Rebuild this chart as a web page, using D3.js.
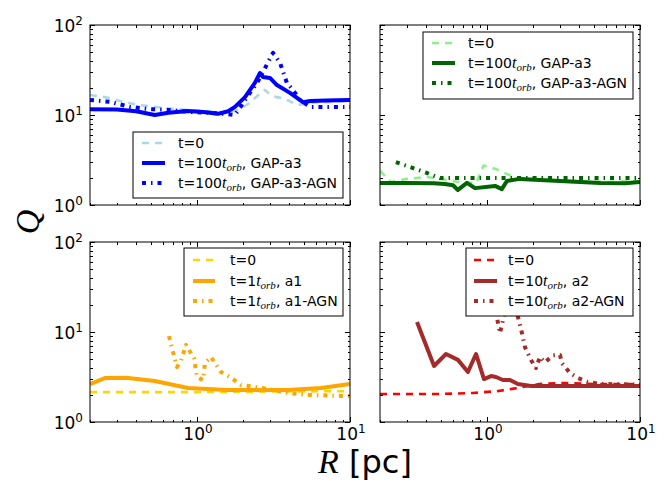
<!DOCTYPE html>
<html><head><meta charset="utf-8">
<script src="https://cdn.jsdelivr.net/npm/d3@7"></script>
<style>body{margin:0;background:#fff}svg{display:block}</style>
</head><body><svg id="c" width="670" height="503"></svg>
<script>
// ---------- DATA ----------
const xTicksMajor = [1, 10];
const yTicksMajor = [1, 10, 100];
const xTickLabels = ["0", "1"];
const yTickLabels = ["0", "1", "2"];

// top-left (GAP-a3, blue)
const tlT0R  = [0.2, 0.25, 0.314, 0.42, 0.53, 0.66, 0.87, 1.2, 1.6, 1.9, 2.2, 2.5, 2.78, 3.0, 3.3, 3.65, 4.05, 4.5, 5.0, 6.0, 7.5, 10];
const tlT0Q  = [16.7, 15.8, 14.3, 12.9, 12.3, 11.8, 11.4, 11.0, 10.7, 11.5, 13.5, 16.5, 19.0, 17.0, 15.8, 15.4, 14.2, 13.0, 13.2, 13.8, 14.0, 14.5];
const tlSolR = [0.2, 0.3, 0.4, 0.53, 0.65, 0.87, 1.1, 1.37, 1.6, 1.77, 2.06, 2.39, 2.58, 2.7, 3.0, 3.33, 4.05, 4.93, 5.5, 7, 10];
const tlSolQ = [11.6, 11.5, 11.0, 10.0, 10.6, 11.1, 10.8, 10.3, 11.0, 12.3, 15.8, 22.7, 29.3, 26.5, 25.8, 21.5, 17.6, 13.9, 14.3, 14.5, 14.7];
const tlAgnR = [0.2, 0.27, 0.365, 0.5, 0.65, 0.9, 1.2, 1.5, 1.77, 1.91, 2.12, 2.47, 2.7, 2.9, 3.14, 3.49, 3.87, 4.24, 4.71, 5.5, 10];
const tlAgnQ = [14.7, 14.0, 12.3, 11.6, 11.4, 10.8, 10.6, 10.3, 10.0, 12.0, 15.8, 22.7, 30, 38, 49, 38, 22.7, 19.0, 14.7, 12.3, 12.3];

// top-right (GAP-a3, green)
const trT0R  = [0.2, 0.236, 0.3, 0.4, 0.5, 0.65, 0.85, 0.95, 1.15, 1.4, 1.7, 3, 6, 10];
const trT0Q  = [2.4, 1.8, 1.95, 2.05, 1.95, 1.8, 1.75, 2.75, 2.5, 2.15, 1.95, 1.85, 1.8, 1.85];
const trSolR = [0.2, 0.3, 0.45, 0.53, 0.6, 0.646, 0.74, 0.835, 1.13, 1.25, 1.35, 1.64, 3, 5.5, 8, 10];
const trSolQ = [1.76, 1.76, 1.74, 1.71, 1.66, 1.47, 1.76, 1.54, 1.63, 1.5, 1.85, 1.95, 1.85, 1.76, 1.74, 1.8];
const trAgnR = [0.254, 0.405, 0.493, 1, 10];
const trAgnQ = [3.0, 2.27, 1.99, 1.99, 1.99];

// bottom-left (a1, orange)
const blT0R  = [0.2, 1, 3, 10];
const blT0Q  = [2.15, 2.15, 2.18, 2.2];
const blSolR = [0.2, 0.25, 0.343, 0.531, 0.873, 1.59, 3.93, 6.46, 10];
const blSolQ = [2.64, 3.08, 3.1, 2.85, 2.39, 2.27, 2.27, 2.39, 2.64];
const blAgnR = [0.656, 0.697, 0.74, 0.786, 0.848, 0.956, 1.0, 1.095, 1.128, 1.234, 1.435, 1.643, 1.94, 2.39, 2.91, 3.93, 5.31, 8.73, 10];
const blAgnQ = [9.0, 6.0, 4.08, 4.76, 7.18, 5.14, 3.16, 2.93, 4.52, 5.28, 3.59, 3.16, 2.58, 2.45, 2.33, 2.1, 2.0, 1.95, 1.95];

// bottom-right (a2, red)
const brT0R  = [0.2, 0.5, 0.81, 1.16, 1.57, 1.83, 2.2, 3, 3.5, 5, 10];
const brT0Q  = [2.05, 2.05, 2.1, 2.2, 2.38, 2.5, 2.64, 2.71, 2.71, 2.64, 2.64];
const brSolR = [0.349, 0.451, 0.54, 0.646, 0.751, 0.848, 0.956, 1.062, 1.145, 1.272, 1.413, 1.594, 1.94, 10];
const brSolQ = [12.9, 4.19, 5.7, 4.9, 3.6, 5.7, 3.0, 3.24, 3.16, 2.93, 2.93, 2.64, 2.51, 2.51];
const brAgnR = [1.1, 1.16, 1.216, 1.3, 1.45, 1.55, 1.594, 1.694, 1.771, 1.94, 2.09, 2.22, 2.39, 2.7, 3.0, 3.09, 3.49, 3.93, 4.5, 5.5, 10];
const brAgnQ = [30, 14.7, 9.7, 16, 40, 25, 14.7, 9.7, 6.8, 4.89, 3.98, 5.3, 4.6, 5.5, 5.55, 4.5, 3.5, 3.08, 2.8, 2.65, 2.6];

const legendTexts = [
  [["t=0"], ["t=100", "t", "orb", ", GAP-a3"], ["t=100", "t", "orb", ", GAP-a3-AGN"]],
  [["t=0"], ["t=100", "t", "orb", ", GAP-a3"], ["t=100", "t", "orb", ", GAP-a3-AGN"]],
  [["t=0"], ["t=1", "t", "orb", ", a1"], ["t=1", "t", "orb", ", a1-AGN"]],
  [["t=0"], ["t=10", "t", "orb", ", a2"], ["t=10", "t", "orb", ", a2-AGN"]]
];

// ---------- LAYOUT ----------
const W = 260, H = 180;
const svg = d3.select("#c");
const x = d3.scaleLog().domain([0.2, 10]).range([0, W]);
const y = d3.scaleLog().domain([1, 100]).range([H, 0]);
const xMinor = [0.2,0.3,0.4,0.5,0.6,0.7,0.8,0.9,2,3,4,5,6,7,8,9];
const yMinor = [2,3,4,5,6,7,8,9,20,30,40,50,60,70,80,90];

const styles = {
  t0:  {w: 2.6, dash: "7,6"},
  sol: {w: 4, dash: null},
  agn: {w: 4, dash: "4,5,1.5,5"}
};

const panels = [
  {x0: 90, y0: 25, colors: ["#ADD8E6", "#0000FF", "#0000FF"],
   series: [[tlT0R, tlT0Q], [tlSolR, tlSolQ], [tlAgnR, tlAgnQ]],
   leg: {x: 43, y: 107, w: 210, h: 66, rows: [11, 31, 51], lx0: 9, lx1: 32, tx: 45},
   yLab: true, xLab: false},
  {x0: 380, y0: 25, colors: ["#90EE90", "#006400", "#006400"],
   series: [[trT0R, trT0Q], [trSolR, trSolQ], [trAgnR, trAgnQ]],
   leg: {x: 43, y: 7, w: 210, h: 67, rows: [11, 31, 51], lx0: 9, lx1: 32, tx: 45},
   yLab: false, xLab: false},
  {x0: 90, y0: 242, colors: ["#FFD700", "#FFA500", "#FFA500"],
   series: [[blT0R, blT0Q], [blSolR, blSolQ], [blAgnR, blAgnQ]],
   leg: {x: 94, y: 6, w: 159, h: 68, rows: [12, 33, 53], lx0: 9, lx1: 31, tx: 46},
   yLab: true, xLab: true},
  {x0: 380, y0: 242, colors: ["#FF0000", "#A52A2A", "#A52A2A"],
   series: [[brT0R, brT0Q], [brSolR, brSolQ], [brAgnR, brAgnQ]],
   leg: {x: 86, y: 6, w: 167, h: 68, rows: [12, 33, 53], lx0: 8, lx1: 31, tx: 42},
   yLab: false, xLab: true}
];
const kinds = ["t0", "sol", "agn"];

const line = d3.line().x(d => x(d[0])).y(d => y(d[1]));

panels.forEach((p, pi) => {
  const g = svg.append("g").attr("transform", `translate(${p.x0},${p.y0})`);
  const cid = "clip" + pi;
  g.append("clipPath").attr("id", cid).append("rect").attr("width", W).attr("height", H);
  g.append("rect").attr("width", W).attr("height", H).attr("fill", "#fff");
  const lg = g.append("g").attr("clip-path", `url(#${cid})`);
  p.series.forEach((s, si) => {
    const pts = s[0].map((r, i) => [r, s[1][i]]);
    const st = styles[kinds[si]];
    lg.append("path").datum(pts).attr("d", line)
      .attr("fill", "none").attr("stroke", p.colors[si])
      .attr("stroke-width", st.w)
      .attr("stroke-dasharray", st.dash)
      .attr("stroke-linejoin", "round");
  });

  // ticks (inward, all four sides)
  const tickG = g.append("g").attr("shape-rendering", "crispEdges");
  const mk = (axisFn, scale, vals, size, tr) => {
    const a = tickG.append("g").attr("transform", tr)
      .call(axisFn(scale).tickValues(vals).tickSize(size).tickFormat(""));
    a.select(".domain").remove();
    a.selectAll("line").attr("stroke", "#000");
  };
  mk(d3.axisBottom, x, xTicksMajor, -5, `translate(0,${H})`);
  mk(d3.axisBottom, x, xMinor, -2.5, `translate(0,${H})`);
  mk(d3.axisTop, x, xTicksMajor, -5, `translate(0,0)`);
  mk(d3.axisTop, x, xMinor, -2.5, `translate(0,0)`);
  mk(d3.axisLeft, y, yTicksMajor, -5, `translate(0,0)`);
  mk(d3.axisLeft, y, yMinor, -2.5, `translate(0,0)`);
  mk(d3.axisRight, y, yTicksMajor, -5, `translate(${W},0)`);
  mk(d3.axisRight, y, yMinor, -2.5, `translate(${W},0)`);

  g.append("rect").attr("width", W).attr("height", H)
    .attr("fill", "none").attr("stroke", "#000").attr("stroke-width", 1);

  // tick labels
  const lab = (t, px, py, anchor, exp) => {
    const tx = g.append("text").attr("x", px).attr("y", py)
      .attr("text-anchor", anchor)
      .attr("font-family", "DejaVu Sans").attr("font-size", 17).attr("fill", "#000");
    tx.append("tspan").text("10");
    tx.append("tspan").attr("dy", -7).attr("font-size", 12).text(exp);
  };
  if (p.yLab) yTicksMajor.forEach((v, i) => lab(v, -7, y(v) + 7, "end", yTickLabels[i]));
  if (p.xLab) xTicksMajor.forEach((v, i) => lab(v, x(v) + 1, H + 18, "middle", xTickLabels[i]));

  // legend
  const L = p.leg;
  const leg = g.append("g").attr("transform", `translate(${L.x},${L.y})`);
  leg.append("rect").attr("width", L.w).attr("height", L.h)
    .attr("fill", "#fff").attr("stroke", "#000").attr("stroke-width", 1);
  legendTexts[pi].forEach((parts, ri) => {
    const ry = L.rows[ri];
    const st = styles[kinds[ri]];
    leg.append("line").attr("x1", L.lx0).attr("x2", L.lx1).attr("y1", ry).attr("y2", ry)
      .attr("stroke", p.colors[ri]).attr("stroke-width", st.w)
      .attr("stroke-dasharray", st.dash);
    const t = leg.append("text").attr("x", L.tx).attr("y", ry + 5)
      .attr("font-family", "DejaVu Sans").attr("font-size", 14).attr("fill", "#000");
    t.append("tspan").text(parts[0]);
    if (parts.length > 1) {
      t.append("tspan").attr("font-family", "Liberation Serif").attr("font-style", "italic")
        .attr("font-size", 16).text(parts[1]);
      t.append("tspan").attr("font-family", "Liberation Serif").attr("font-style", "italic")
        .attr("font-size", 11).attr("dy", 3).text(parts[2]);
      t.append("tspan").attr("dy", -3).text(parts[3]);
    }
  });
});

// axis titles
svg.append("text").attr("transform", "translate(39,222) rotate(-90)")
  .attr("text-anchor", "middle").attr("font-family", "Liberation Serif")
  .attr("font-style", "italic").attr("font-size", 34).text("Q");
const xt = svg.append("text").attr("x", 365).attr("y", 473).attr("text-anchor", "middle")
  .attr("font-size", 32);
xt.append("tspan").attr("font-family", "Liberation Serif").attr("font-style", "italic")
  .attr("font-size", 34).text("R");
xt.append("tspan").attr("font-family", "DejaVu Sans").text(" [pc]");
</script>
</body></html>
